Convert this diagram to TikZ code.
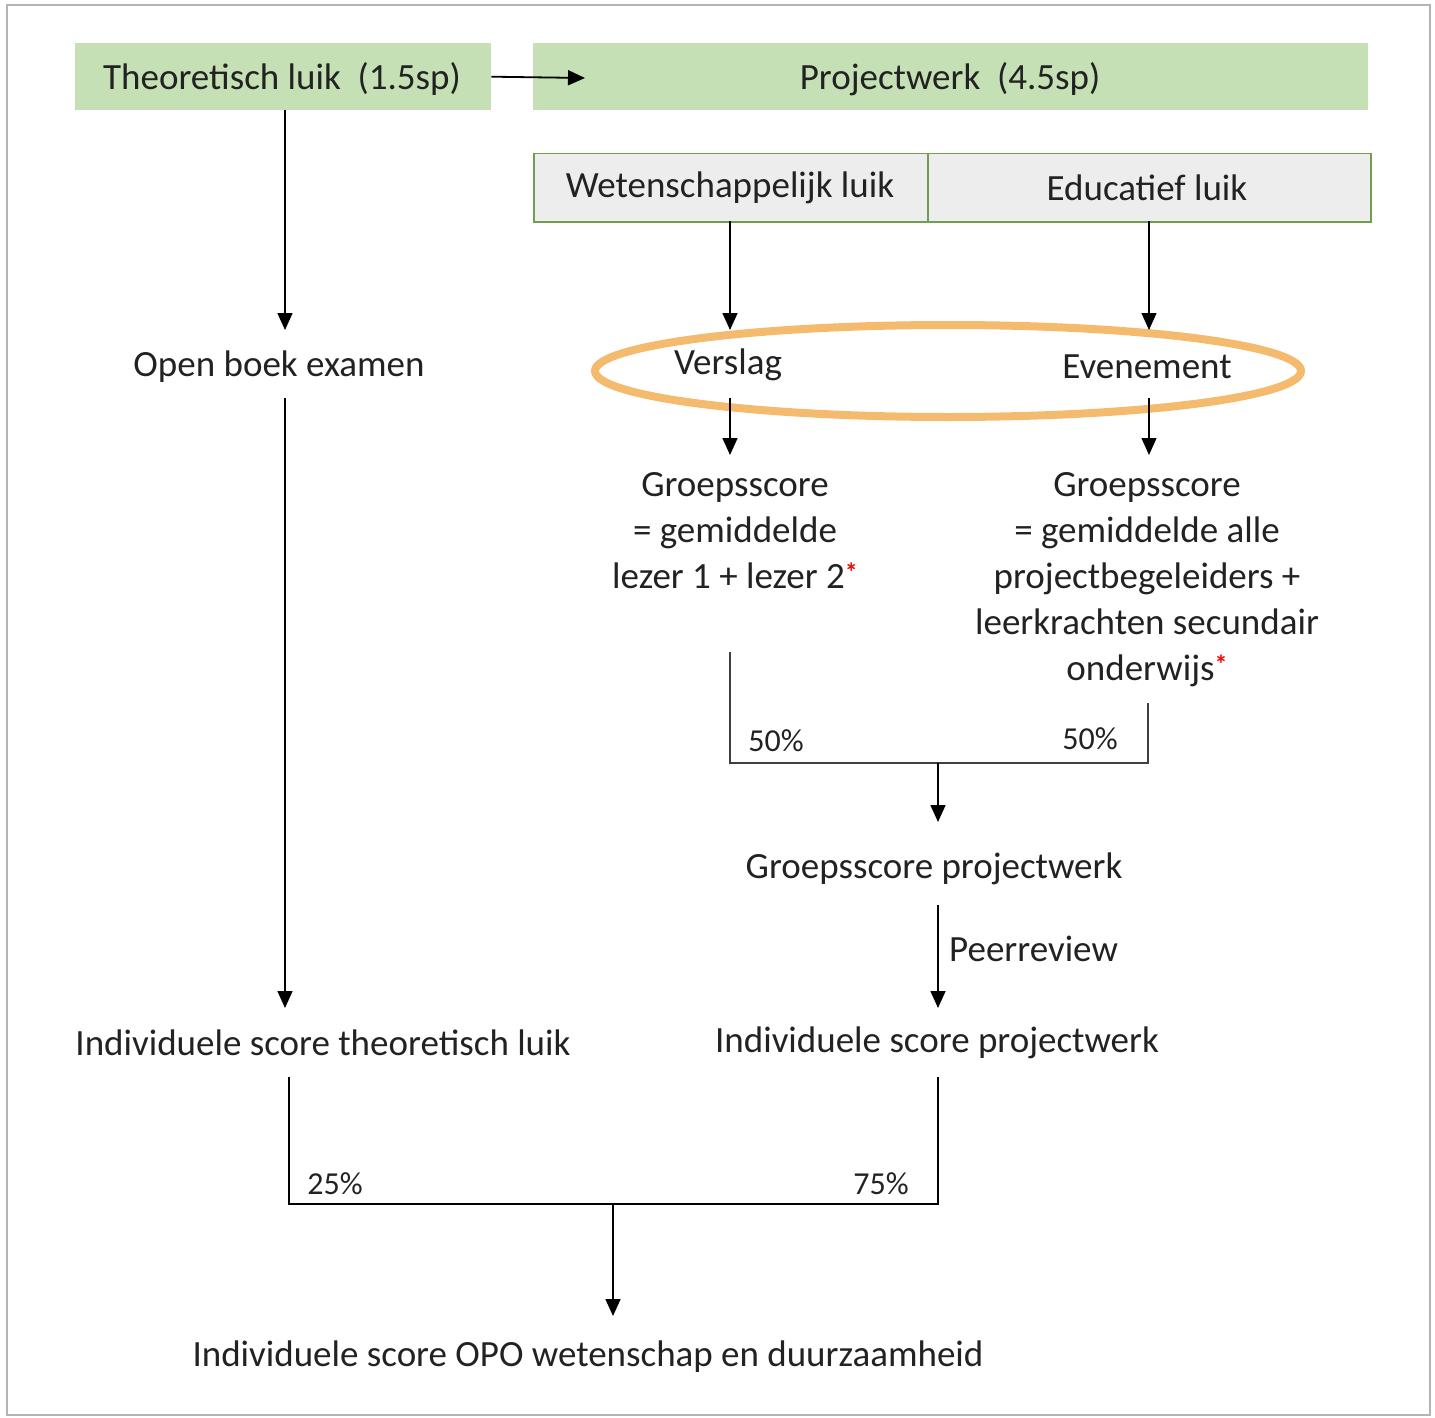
\documentclass[tikz,border=0pt]{standalone}
\usepackage{fontspec}
\setmainfont{Carlito}
\usetikzlibrary{arrows.meta,shapes.geometric}
\definecolor{boxgreen}{HTML}{C5E0B4}
\definecolor{boxgray}{HTML}{EDEDED}
\definecolor{edgegreen}{HTML}{6E9E4E}
\definecolor{ovalc}{HTML}{F4BA6E}
\definecolor{txt}{HTML}{222222}
\definecolor{frame}{HTML}{B4B4B4}
\newcommand{\redstar}{{\color{red}\raisebox{7pt}{\fontsize{26}{26}\selectfont\bfseries *}}}
\begin{document}
\begin{tikzpicture}[x=1pt,y=-1pt,
  every node/.style={font=\fontsize{37}{46}\selectfont, text=txt, inner sep=0pt},
  greenbox/.style={fill=boxgreen, minimum height=67pt, anchor=north west},
  graybox/.style={fill=boxgray, draw=edgegreen, line width=1.5pt, minimum height=68pt, anchor=north west},
  lbl/.style={align=center},
  conn/.style={draw=black, line width=1.6pt},
  arr/.style={conn, -{Triangle[width=15pt,length=17pt]}},
  pct/.style={font=\fontsize{32}{40}\selectfont}
]
\useasboundingbox (0,0) rectangle (1435,1418);
\draw[frame, line width=2pt] (7,5) rectangle (1430,1415);

% top boxes
\node[greenbox, minimum width=416pt] (theo) at (75,43) {};
\node at (282,79) {Theoretisch luik\ \ (1.5sp)};
\node[greenbox, minimum width=835pt] (proj) at (533,43) {};
\node at (950,79) {Projectwerk\ \ (4.5sp)};
\coordinate (projin) at (585,78);
\draw[arr, line width=1.8pt] (theo.east) -- (projin);

\node[graybox, minimum width=394pt] (wet) at (533,153) {};
\node at (730,188) {Wetenschappelijk luik};
\node[graybox, minimum width=443pt] (edu) at (927,153) {};
\node at (1147,188) {Educatief luik};

% left column
\node (obe) at (279,367) {Open boek examen};
\coordinate (theoout) at (285,110);
\coordinate (obein) at (285,330);
\draw[arr] (theoout) -- (obein);
\node (ist) at (323,1043) {Individuele score theoretisch luik};
\coordinate (obeout) at (285,398);
\coordinate (istin) at (285,1008);
\draw[arr] (obeout) -- (istin);

% oval row
\node[draw=ovalc, line width=8pt, ellipse, minimum width=706pt, minimum height=92pt] (oval) at (948,371) {};
\node (vers) at (728,365) {Verslag};
\node (even) at (1147,367) {Evenement};
\coordinate (wetout) at (730,221);
\coordinate (versin) at (730,330);
\coordinate (eduout) at (1149,221);
\coordinate (evenin) at (1149,330);
\draw[arr] (wetout) -- (versin);
\draw[arr, line width=1.2pt] (eduout) -- (evenin);

\coordinate (versout) at (730,398);
\coordinate (gsvin) at (730,455);
\coordinate (evenout) at (1149,398);
\coordinate (gsein) at (1149,455);
\draw[arr] (versout) -- (gsvin);
\draw[arr, line width=1.2pt] (evenout) -- (gsein);

\node[lbl, anchor=north] (gsv) at (735,472) {Groepsscore\\= gemiddelde\\lezer 1 + lezer 2\redstar};
\node[lbl, anchor=north] (gse) at (1147,472) {Groepsscore\\= gemiddelde alle\\projectbegeleiders +\\leerkrachten secundair\\onderwijs\redstar};

% 50/50 bracket
\coordinate (b1a) at (730,652);
\coordinate (b1b) at (730,763);
\coordinate (b1c) at (1148,763);
\coordinate (b1d) at (1148,703);
\draw[conn, line width=1.4pt, draw=black!75] (b1a) -- (b1b) -- (b1c) -- (b1d);
\node[pct] (p50a) at (776,741) {50\%};
\node[pct] (p50b) at (1090,739) {50\%};
\coordinate (b1m) at (938,763);
\node (gsp) at (934,869) {Groepsscore projectwerk};
\coordinate (gspin) at (938,822);
\draw[arr] (b1m) -- (gspin);

\node (isp) at (937,1043) {Individuele score projectwerk};
\coordinate (gspout) at (938,905);
\coordinate (ispin) at (938,1008);
\draw[arr] (gspout) -- (ispin);
\node[anchor=west] (peer) at (949,949) {Peerreview};

% 25/75 bracket
\coordinate (b2a) at (289,1077);
\coordinate (b2b) at (289,1204);
\coordinate (b2c) at (938,1204);
\coordinate (b2d) at (938,1077);
\draw[conn] (b2a) -- (b2b) -- (b2c) -- (b2d);
\node[pct] (p25) at (335,1184) {25\%};
\node[pct] (p75) at (881,1184) {75\%};
\coordinate (b2m) at (613,1204);
\coordinate (opoin) at (613,1316);
\draw[arr] (b2m) -- (opoin);
\node (opo) at (588,1357) {Individuele score OPO wetenschap en duurzaamheid};
\end{tikzpicture}
\end{document}
